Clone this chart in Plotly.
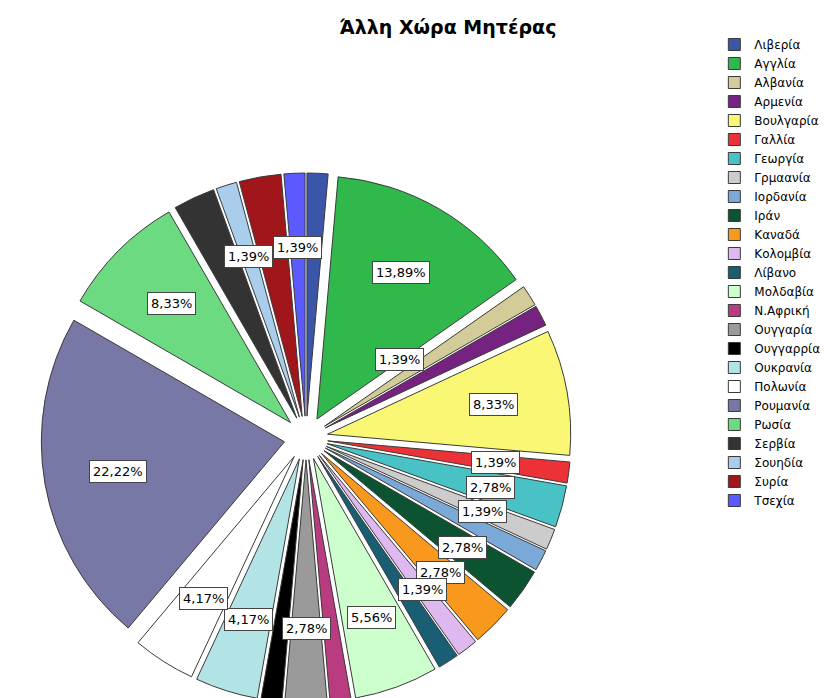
import math
import plotly.graph_objects as go

categories = ["Λιβερία", "Αγγλία", "Αλβανία", "Αρμενία", "Βουλγαρία", "Γαλλία", "Γεωργία",
              "Γρμαανία", "Ιορδανία", "Ιράν", "Καναδά", "Κολομβία", "Λίβανο", "Μολδαβία",
              "Ν.Αφρική", "Ουγγαρία", "Ουγγαρρία", "Ουκρανία", "Πολωνία", "Ρουμανία",
              "Ρωσία", "Σερβία", "Σουηδία", "Συρία", "Τσεχία"]
counts = [1, 10, 1, 1, 6, 1, 2, 1, 1, 2, 2, 1, 1, 4, 1, 2, 1, 3, 3, 16, 6, 2, 1, 2, 1]
labelled = ["Αγγλία", "Αρμενία", "Βουλγαρία", "Γαλλία", "Γεωργία", "Γρμαανία", "Ιράν",
            "Καναδά", "Κολομβία", "Μολδαβία", "Ουγγαρία", "Ουκρανία", "Πολωνία",
            "Ρουμανία", "Ρωσία", "Σουηδία", "Τσεχία"]
colors = ["#3B55A8", "#30B84C", "#D4CC98", "#762281", "#FAF774", "#ED3237", "#48C2C5",
          "#CCCCCC", "#7AA9D8", "#0C5332", "#F8981D", "#DDB9EF", "#1A5E73", "#CCFFCC",
          "#B93C80", "#9A9A9A", "#000000", "#B2E4E6", "#FFFFFF", "#7878A6", "#6CDA80",
          "#333333", "#A9CDEB", "#A1161B", "#5A5AFF"]

W, H = 830, 698
cx, cy, rext = 298, 430, 265
dom_x = [(cx - rext) / W, (cx + rext) / W]
dom_y = [(H - cy - rext) / H, (H - cy + rext) / H]
pull = 0.09

fig = go.Figure(go.Pie(
    labels=categories, values=counts, sort=False, direction="clockwise", rotation=0,
    marker=dict(colors=colors, line=dict(color="#3a3a3a", width=1)),
    pull=[pull] * len(counts), textinfo="none", hoverinfo="label+percent",
    domain=dict(x=dom_x, y=dom_y), showlegend=True,
))

total = sum(counts)
cum = 0
annotations = []
for name, v in zip(categories, counts):
    mid = (cum + v / 2) / total * 2 * math.pi
    cum += v
    if name not in labelled:
        continue
    if name == "Αρμενία":
        mid -= 0.22
        frac = 0.46
    else:
        frac = 0.72
    r = frac * rext
    px = cx + r * math.sin(mid)
    py = cy - r * math.cos(mid)
    txt = f"{v / total * 100:.2f}".replace(".", ",") + "%"
    annotations.append(dict(
        x=px / W, y=1 - py / H, xref="paper", yref="paper", text=txt, showarrow=False,
        font=dict(family="DejaVu Sans", size=13, color="black"),
        bgcolor="white", bordercolor="#444444", borderwidth=1, borderpad=3,
        xanchor="center", yanchor="middle"))

fig.update_layout(
    width=W, height=H, margin=dict(l=0, r=0, t=0, b=0),
    paper_bgcolor="white", plot_bgcolor="white",
    font=dict(family="DejaVu Sans", size=12, color="black"),
    title=dict(text="<b>Άλλη Χώρα Μητέρας</b>", x=440 / W, y=1 - 19 / H,
               xanchor="center", yanchor="middle",
               font=dict(family="DejaVu Sans", size=19, color="black")),
    legend=dict(x=0.851, y=1 - 22 / H, xanchor="left", yanchor="top",
                font=dict(family="DejaVu Sans", size=12), tracegroupgap=0),
    annotations=annotations,
)

fig.write_html("out.html")
